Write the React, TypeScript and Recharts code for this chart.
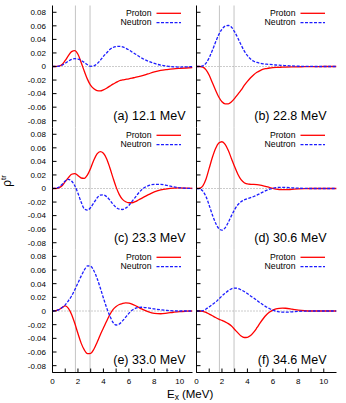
import React from 'react';
import { LineChart, Line, XAxis, YAxis, ReferenceLine } from 'recharts';

// radial grid (shared by all panels)
const X = [0, 0.25, 0.5, 0.75, 1, 1.25, 1.5, 1.75, 2, 2.25, 2.5, 2.75, 3, 3.25, 3.5, 3.75, 4, 4.25, 4.5, 4.75, 5, 5.25, 5.5, 5.75, 6, 6.25, 6.5, 6.75, 7, 7.5, 8, 8.5, 9, 9.5, 10, 10.5, 11];

const protonA = [0, 0, 0.0005, 0.003, 0.009, 0.016, 0.022, 0.0235, 0.018, 0.006, -0.007, -0.019, -0.028, -0.033, -0.0355, -0.036, -0.0345, -0.032, -0.029, -0.026, -0.0235, -0.021, -0.0198, -0.019, -0.0182, -0.0172, -0.016, -0.015, -0.014, -0.011, -0.008, -0.0058, -0.0045, -0.0035, -0.0028, -0.0022, -0.0017];
const neutronA = [0, 0, 0.0005, 0.002, 0.005, 0.008, 0.0105, 0.0115, 0.011, 0.009, 0.006, 0.0025, 0.0003, 0.0008, 0.004, 0.009, 0.015, 0.02, 0.025, 0.028, 0.0295, 0.0298, 0.029, 0.027, 0.0245, 0.0215, 0.0185, 0.0155, 0.0125, 0.008, 0.0045, 0.002, 0.0005, -0.0005, -0.0008, -0.0005, -0.0002];

const protonB = [0, 0, -0.001, -0.005, -0.013, -0.024, -0.035, -0.045, -0.052, -0.055, -0.055, -0.052, -0.047, -0.041, -0.035, -0.028, -0.022, -0.0165, -0.012, -0.0085, -0.006, -0.004, -0.003, -0.0022, -0.0017, -0.0014, -0.0012, -0.001, -0.0009, -0.0007, -0.0005, -0.0003, -0.0002, -0.0001, 0, 0, 0];
const neutronB = [0, 0, 0.001, 0.005, 0.013, 0.024, 0.036, 0.047, 0.055, 0.0595, 0.0605, 0.058, 0.051, 0.042, 0.032, 0.023, 0.016, 0.011, 0.0078, 0.006, 0.0048, 0.004, 0.0034, 0.003, 0.0026, 0.0022, 0.0019, 0.0016, 0.0013, 0.0008, 0.0004, 0.0002, 0.0001, 0, 0, 0, 0];

const protonC = [0, 0, 0.001, 0.004, 0.01, 0.016, 0.021, 0.022, 0.019, 0.0155, 0.015, 0.02, 0.03, 0.042, 0.051, 0.0545, 0.052, 0.044, 0.031, 0.016, 0.002, -0.009, -0.016, -0.0195, -0.021, -0.021, -0.0195, -0.017, -0.0145, -0.0095, -0.005, -0.0022, -0.0005, 0.0005, 0.0008, 0.0005, 0.0002];
const neutronC = [0, 0.0005, 0.002, 0.006, 0.011, 0.0135, 0.011, 0.004, -0.007, -0.02, -0.03, -0.032, -0.028, -0.021, -0.014, -0.0097, -0.0095, -0.012, -0.017, -0.023, -0.028, -0.0305, -0.031, -0.029, -0.025, -0.019, -0.013, -0.007, -0.002, 0.004, 0.006, 0.006, 0.0045, 0.0025, 0.001, 0.0003, 0];

const protonD = [0, 0.0005, 0.004, 0.014, 0.03, 0.046, 0.059, 0.067, 0.069, 0.065, 0.056, 0.044, 0.032, 0.021, 0.013, 0.0085, 0.0068, 0.0062, 0.006, 0.0056, 0.005, 0.004, 0.0027, 0.0014, 0.0002, -0.0008, -0.0015, -0.0018, -0.0018, -0.0012, -0.0006, -0.0002, 0, 0, 0, 0, 0];
const neutronD = [0, -0.0005, -0.004, -0.012, -0.025, -0.039, -0.051, -0.059, -0.0615, -0.058, -0.05, -0.04, -0.031, -0.024, -0.0195, -0.0168, -0.015, -0.0135, -0.0118, -0.0097, -0.0073, -0.005, -0.0028, -0.001, 0.0003, 0.0012, 0.0017, 0.0018, 0.0016, 0.001, 0.0005, 0.0002, 0, 0, 0, 0, 0];

const protonE = [0, 0.0005, 0.002, 0.005, 0.0075, 0.004, -0.005, -0.018, -0.033, -0.047, -0.057, -0.0625, -0.062, -0.056, -0.046, -0.035, -0.025, -0.015, -0.0055, 0.002, 0.0065, 0.0095, 0.011, 0.0118, 0.0115, 0.01, 0.008, 0.0055, 0.003, -0.001, -0.0035, -0.004, -0.003, -0.0018, -0.0008, -0.0003, 0];
const neutronE = [0, 0.0005, 0.002, 0.005, 0.009, 0.015, 0.022, 0.031, 0.041, 0.051, 0.06, 0.066, 0.0655, 0.059, 0.048, 0.034, 0.019, 0.005, -0.007, -0.0165, -0.0205, -0.019, -0.0145, -0.009, -0.0035, 0.001, 0.0038, 0.0052, 0.0055, 0.0045, 0.003, 0.0018, 0.0008, 0.0002, 0, 0, 0];

const protonF = [0, 0, -0.0005, -0.002, -0.0045, -0.007, -0.0095, -0.0118, -0.0138, -0.0158, -0.0185, -0.022, -0.027, -0.032, -0.0365, -0.0388, -0.0385, -0.036, -0.031, -0.0245, -0.0175, -0.011, -0.0055, -0.0015, 0.0012, 0.003, 0.0038, 0.0041, 0.004, 0.0028, 0.0013, 0.0004, 0, 0, 0, 0, 0];
const neutronF = [0, 0, 0.0005, 0.003, 0.006, 0.0095, 0.013, 0.0175, 0.022, 0.026, 0.0298, 0.0325, 0.0335, 0.033, 0.031, 0.0285, 0.0255, 0.022, 0.019, 0.0155, 0.012, 0.0088, 0.0058, 0.0033, 0.0013, -0.0003, -0.0012, -0.0017, -0.0017, -0.0012, -0.0006, -0.0002, 0, 0, 0, 0, 0];

const X_TICKS = [0, 1, 2, 3, 4, 5, 6, 7, 8, 9, 10];
const Y_TICKS = [-0.08, -0.06, -0.04, -0.02, 0, 0.02, 0.04, 0.06, 0.08];
const GUIDE_X = [1.8, 2.95];
const PANEL_LABELS = ['(a) 12.1 MeV', '(b) 22.8 MeV', '(c) 23.3 MeV', '(d) 30.6 MeV', '(e) 33.0 MeV', '(f) 34.6 MeV'];
const SERIES_NAMES = ['Proton', 'Neutron'];

const PANELS = [
  { proton: protonA, neutron: neutronA },
  { proton: protonB, neutron: neutronB },
  { proton: protonC, neutron: neutronC },
  { proton: protonD, neutron: neutronD },
  { proton: protonE, neutron: neutronE },
  { proton: protonF, neutron: neutronF },
];

const FONT = '"Liberation Sans", Arial, Helvetica, sans-serif';
const RED = '#ff0000';
const BLUE = '#1c1cff';

const PLOT_LEFT = [52.5, 196.5];
const PLOT_W = 140;
const ROW_TOP = [5.5, 127.5, 249.5];
const ROW_H = [122, 122, 123];
const SVG_LEFT = [0, 190];
const SVG_TOP = [0, 122, 244];

function Panel({ proton, neutron, col, row }: { proton: number[]; neutron: number[]; col: number; row: number }) {
  const data = X.map((x, i) => ({ x, p: proton[i], n: neutron[i] }));
  const yw = PLOT_LEFT[col] - SVG_LEFT[col];
  const mt = ROW_TOP[row] - SVG_TOP[row];
  const xh = row === 2 ? 20 : 0;
  const mr = col === 0 ? 3.5 : 9.5;
  const width = yw + PLOT_W + mr;
  const height = mt + ROW_H[row] + xh + 4;
  const tickStyle = { fontSize: 8, fill: '#000', fontFamily: FONT };
  const xFmt = (v: number) => (row === 2 && v % 2 === 0 ? String(v) : '');
  const yFmt = (v: number) => (col === 0 ? (v === 0 ? '0' : v.toFixed(2)) : '');
  return (
    <div style={{ position: 'absolute', left: SVG_LEFT[col], top: SVG_TOP[row] }}>
      <LineChart width={width} height={height} data={data} margin={{ top: mt, right: mr, bottom: 4, left: 0 }}>
        <XAxis xAxisId="b" dataKey="x" type="number" domain={[0, 11]} ticks={X_TICKS} interval={0}
          orientation="bottom" height={xh} tickSize={-4} tickMargin={10} tickFormatter={xFmt}
          axisLine={{ stroke: '#000', strokeWidth: 1 }} tickLine={{ stroke: '#000' }} tick={tickStyle} allowDataOverflow />
        <XAxis xAxisId="t" dataKey="x" type="number" domain={[0, 11]} ticks={X_TICKS} interval={0}
          orientation="top" height={0} tickSize={-4} tickFormatter={() => ''}
          axisLine={{ stroke: '#000', strokeWidth: 1 }} tickLine={{ stroke: '#000' }} tick={tickStyle} allowDataOverflow />
        <YAxis yAxisId="l" type="number" domain={[-0.09, 0.09]} ticks={Y_TICKS} interval={0}
          width={yw} tickSize={-4} tickMargin={10.5} tickFormatter={yFmt}
          axisLine={{ stroke: '#000', strokeWidth: 1 }} tickLine={{ stroke: '#000' }} tick={tickStyle} allowDataOverflow />
        <YAxis yAxisId="r" orientation="right" type="number" domain={[-0.09, 0.09]} ticks={Y_TICKS} interval={0}
          width={0} tickSize={-4} tickFormatter={() => ''}
          axisLine={{ stroke: '#777', strokeWidth: 1.5 }} tickLine={{ stroke: '#444' }} tick={tickStyle} allowDataOverflow />
        {GUIDE_X.map((g) => (
          <ReferenceLine key={g} x={g} xAxisId="b" yAxisId="l" stroke="#c4c4c4" strokeWidth={1} />
        ))}
        <ReferenceLine y={0} xAxisId="b" yAxisId="l" stroke="#999" strokeWidth={1} strokeDasharray="1 2" />
        <Line xAxisId="b" yAxisId="l" dataKey="p" type="monotone" stroke={RED} strokeWidth={1.3} dot={false} isAnimationActive={false} />
        <Line xAxisId="b" yAxisId="l" dataKey="n" type="monotone" stroke={BLUE} strokeWidth={1.3} strokeDasharray="3 1.5" dot={false} isAnimationActive={false} />
      </LineChart>
    </div>
  );
}

function Overlay() {
  const items: React.ReactNode[] = [];
  for (let row = 0; row < 3; row++) {
    for (let col = 0; col < 2; col++) {
      const idx = row * 2 + col;
      const R = PLOT_LEFT[col] + PLOT_W;
      const T = ROW_TOP[row];
      items.push(
        <g key={idx}>
          <text x={R - 41} y={T + 10.3} textAnchor="end" fontSize={8.7} fontFamily={FONT} fill="#000">{SERIES_NAMES[0]}</text>
          <line x1={R - 36} x2={R - 11.5} y1={T + 7.8} y2={T + 7.8} stroke={RED} strokeWidth={1.3} />
          <text x={R - 41} y={T + 19.5} textAnchor="end" fontSize={8.7} fontFamily={FONT} fill="#000">{SERIES_NAMES[1]}</text>
          <line x1={R - 36} x2={R - 11.5} y1={T + 17.2} y2={T + 17.2} stroke={BLUE} strokeWidth={1.3} strokeDasharray="3 1.5" />
          <text x={col === 0 ? R - 7 : R - 10} y={T + 114} textAnchor="end" fontSize={12.5} fontFamily={FONT} fill="#000">{PANEL_LABELS[idx]}</text>
        </g>
      );
    }
  }
  return (
    <svg width={346} height={403} style={{ position: 'absolute', left: 0, top: 0, pointerEvents: 'none' }}>
      {items}
      <text x={167} y={397.5} fontSize={11.5} fontFamily={FONT} fill="#000">
        E<tspan fontSize={8.5} dy={2.5}>x</tspan><tspan dy={-2.5} dx={3}>(MeV)</tspan>
      </text>
      <text transform="translate(10.5,181) rotate(-90)" textAnchor="middle" fontSize={12} fontFamily={FONT} fill="#000">
        ρ<tspan fontSize={8} dy={-4.5}>tr</tspan>
      </text>
    </svg>
  );
}

export default function App() {
  return (
    <div style={{ position: 'absolute', left: 0, top: 0, width: 346, height: 403, background: '#fff', overflow: 'hidden' }}>
      {PANELS.map((p, i) => (
        <Panel key={i} proton={p.proton} neutron={p.neutron} col={i % 2} row={Math.floor(i / 2)} />
      ))}
      <Overlay />
    </div>
  );
}
